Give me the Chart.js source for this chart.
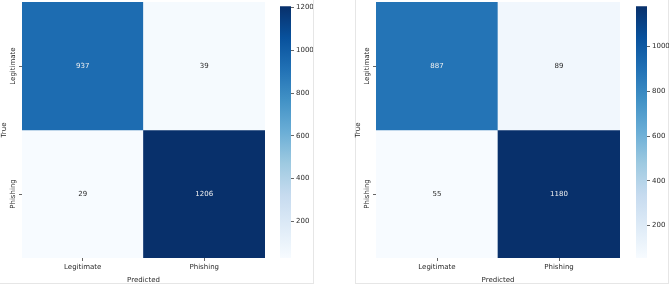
<!DOCTYPE html>
<html>
<head>
<meta charset="utf-8">
<script src="https://cdn.jsdelivr.net/npm/chart.js@4/dist/chart.umd.min.js"></script>
<style>
  body { margin: 0; background: #fff; width: 669px; height: 284px; position: relative; overflow: hidden; }
  .panel { position: absolute; box-sizing: border-box; border: 1px solid #e6e6e6; }
  canvas { position: absolute; }
</style>
</head>
<body>
<div class="panel" style="left:-1px; top:-1px; width:315px; height:285px"></div>
<div class="panel" style="left:355px; top:-1px; width:314px; height:285px"></div>
<canvas id="heatA" width="270" height="284" style="left:0; top:0"></canvas>
<canvas id="barA" width="43" height="284" style="left:270px; top:0"></canvas>
<canvas id="heatB" width="268" height="284" style="left:354px; top:0"></canvas>
<canvas id="barB" width="43" height="284" style="left:626px; top:0"></canvas>
<script>
// class labels and confusion matrices (rows = true, cols = predicted)
const predictedLabels = ["Legitimate", "Phishing"];
const trueLabels = ["Legitimate", "Phishing"];
const cmA = [
  [937, 39],
  [29, 1206],
];
const cmB = [
  [887, 89],
  [55, 1180],
];
const colorbarTicks = [200, 400, 600, 800, 1000, 1200];

const textColor = "#2a2a2a";
const font = { family: "DejaVu Sans", size: 7 };

// matplotlib "Blues" colormap stops
const bluesStops = [
  [247, 251, 255], [222, 235, 247], [198, 219, 239], [158, 202, 225], [107, 174, 214],
  [66, 146, 198], [33, 113, 181], [8, 81, 156], [8, 48, 107],
];

function blues(t) {
  t = Math.max(0, Math.min(1, t));
  const pos = t * (bluesStops.length - 1);
  const i = Math.min(Math.floor(pos), bluesStops.length - 2);
  const f = pos - i;
  const a = bluesStops[i], b = bluesStops[i + 1];
  const c = a.map((v, k) => Math.round(v + (b[k] - v) * f));
  return "rgb(" + c.join(",") + ")";
}

// value text in the middle of every cell
const cellLabels = {
  id: "cellLabels",
  afterDatasetsDraw(chart) {
    const ctx = chart.ctx;
    ctx.save();
    ctx.font = font.size + 'px "DejaVu Sans"';
    ctx.textAlign = "center";
    ctx.textBaseline = "middle";
    chart.data.datasets.forEach((ds, di) => {
      chart.getDatasetMeta(di).data.forEach((bar, i) => {
        const item = ds.data[i];
        ctx.fillStyle = item.t > 0.5 ? "#f0f0f0" : textColor;
        ctx.fillText(String(item.v), bar.x, (bar.y + bar.base) / 2);
      });
    });
    ctx.restore();
  },
};

// vertical tick labels of the "True" axis
const rotatedYLabels = {
  id: "rotatedYLabels",
  afterDraw(chart) {
    const s = chart.scales.y;
    const ctx = chart.ctx;
    ctx.save();
    ctx.font = font.size + 'px "DejaVu Sans"';
    ctx.fillStyle = textColor;
    ctx.textAlign = "center";
    ctx.textBaseline = "middle";
    s.ticks.forEach((t, i) => {
      const y = s.getPixelForValue(t.value);
      const x = s.right - 3 - 2 - 4;
      ctx.translate(x, y);
      ctx.rotate(-Math.PI / 2);
      ctx.fillText(trueLabels[i], 0, 0);
      ctx.setTransform(1, 0, 0, 1, 0, 0);
    });
    ctx.restore();
  },
};

function heatmap(id, cm, padRight) {
  const flat = cm.flat();
  const vmin = Math.min(...flat);
  const vmax = Math.max(...flat);
  const datasets = cm.map((row, r) => ({
    data: row.map((v, c) => ({ x: predictedLabels[c], y: [r, r + 1], v: v, t: (v - vmin) / (vmax - vmin) })),
    backgroundColor: row.map((v) => blues((v - vmin) / (vmax - vmin))),
    borderWidth: 0,
    barPercentage: 1,
    categoryPercentage: 1,
    grouped: false,
  }));

  new Chart(document.getElementById(id), {
    type: "bar",
    data: { labels: predictedLabels, datasets: datasets },
    options: {
      responsive: false,
      animation: false,
      devicePixelRatio: 1,
      layout: { padding: { top: 2, right: padRight, left: 0, bottom: 0 } },
      plugins: { legend: { display: false }, tooltip: { enabled: false } },
      scales: {
        x: {
          type: "category",
          grid: { offset: false, drawOnChartArea: false, tickLength: 3, color: "#666" },
          border: { display: false },
          ticks: { font: font, color: textColor, padding: 2, maxRotation: 0 },
          title: { display: true, text: "Predicted", font: font, color: textColor, padding: 0 },
          afterFit: (s) => { s.height = 26; },
        },
        y: {
          type: "linear",
          min: 0,
          max: 2,
          reverse: true,
          afterBuildTicks: (s) => { s.ticks = [{ value: 0.5 }, { value: 1.5 }]; },
          grid: { drawOnChartArea: false, tickLength: 3, color: "#666" },
          border: { display: false },
          ticks: { display: false },
          title: { display: true, text: "True", font: font, color: textColor, padding: 0 },
          afterFit: (s) => { s.width = 22; },
        },
      },
    },
    plugins: [cellLabels, rotatedYLabels],
  });
}

function colorbar(id, cm) {
  const flat = cm.flat();
  const vmin = Math.min(...flat);
  const vmax = Math.max(...flat);

  new Chart(document.getElementById(id), {
    type: "bar",
    data: {
      labels: [""],
      datasets: [{
        data: [[vmin, vmax]],
        backgroundColor: (context) => {
          const chart = context.chart;
          if (!chart.chartArea) return null;
          const y = chart.scales.y;
          const g = chart.ctx.createLinearGradient(0, y.getPixelForValue(vmin), 0, y.getPixelForValue(vmax));
          bluesStops.forEach((c, i) => g.addColorStop(i / (bluesStops.length - 1), "rgb(" + c.join(",") + ")"));
          return g;
        },
        borderWidth: 0,
        barPercentage: 1,
        categoryPercentage: 1,
      }],
    },
    options: {
      responsive: false,
      animation: false,
      devicePixelRatio: 1,
      layout: { padding: { top: 2, right: 0, left: 10, bottom: 26 } },
      plugins: { legend: { display: false }, tooltip: { enabled: false } },
      scales: {
        x: { display: false },
        y: {
          position: "right",
          min: vmin,
          max: vmax,
          afterBuildTicks: (s) => { s.ticks = colorbarTicks.filter((v) => v >= vmin && v <= vmax).map((v) => ({ value: v })); },
          grid: { drawOnChartArea: false, tickLength: 3, color: "#666" },
          border: { display: false },
          ticks: { font: font, color: textColor, padding: 2, callback: (v) => String(v) },
          afterFit: (s) => { s.width = 22; },
        },
      },
    },
  });
}

heatmap("heatA", cmA, 5);
colorbar("barA", cmA);
heatmap("heatB", cmB, 2);
colorbar("barB", cmB);
</script>
</body>
</html>
